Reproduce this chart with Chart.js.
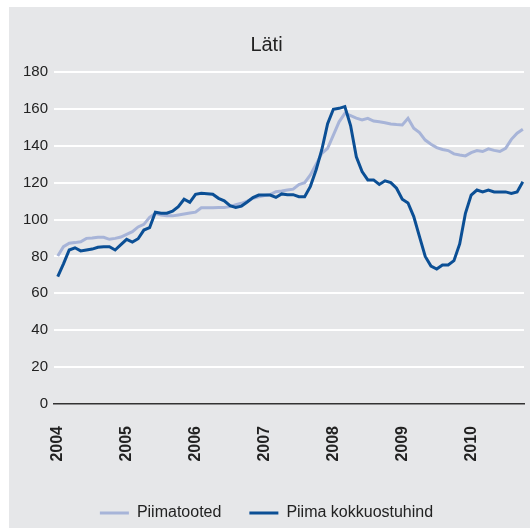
<!DOCTYPE html>
<html>
<head>
<meta charset="utf-8">
<script src="https://cdn.jsdelivr.net/npm/chart.js"></script>
<style>
  html, body { margin: 0; padding: 0; background: #fff; }
  #panel { position: absolute; left: 9px; top: 7px; width: 521px; height: 521px; background: #e6e7e9; }
  canvas { display: block; }
</style>
</head>
<body>
<div id="panel"><canvas id="chart" width="521" height="521"></canvas></div>
<script>
// Läti: piimatoodete hinnaindeks ja piima kokkuostuhind, kuised väärtused 2004 jaanuar – 2010 oktoober
const years = ['2004', '2005', '2006', '2007', '2008', '2009', '2010'];

const piimatooted = [
  80.2, 85.3, 87.2, 87.5, 88, 89.8, 90, 90.4, 90.4, 89.3, 89.8, 90.5,
  92, 93.4, 96, 97.4, 101.2, 103.4, 102.5, 102, 102, 102.5, 103, 103.5,
  104, 106.4, 106.4, 106.4, 106.5, 106.5, 107, 108, 108.8, 110, 111.5, 112.3,
  113, 113.5, 115.1, 115.5, 116, 116.5, 119, 120, 124.2, 130, 135.9, 138.6,
  145.8, 153, 157.6, 156.3, 155, 154, 154.9, 153.4, 153, 152.5, 151.8, 151.5,
  151.3, 154.9, 149.5, 147.1, 143.1, 140.8, 139, 138, 137.4, 135.6, 135, 134.5,
  136.3, 137.4, 136.9, 138.3, 137.5, 136.9, 138.6, 143.5, 146.8, 148.9
];

const kokkuostuhind = [
  69, 76, 83.5, 84.7, 83, 83.5, 84, 85, 85.3, 85.3, 83.5, 86.4,
  89.3, 87.8, 89.6, 94.3, 95.6, 104, 103.4, 103.4, 104.5, 107, 111, 109.3,
  113.7, 114.2, 114, 113.7, 111.5, 110.2, 107.5, 106.6, 107.3, 109.5, 111.9, 113.3,
  113.3, 113.3, 112, 113.9, 113.5, 113.5, 112.4, 112.4, 118, 127, 138, 152,
  159.8, 160.3, 161.2, 151, 134, 126, 121.5, 121.5, 119, 121, 120, 117,
  111, 109, 101.6, 90.7, 80, 74.8, 73.2, 75.4, 75.4, 77.7, 86.8, 103.4,
  113.3, 116, 115, 116, 115, 115, 115, 114.2, 115, 120.5
];

const FONT = "'Liberation Sans', Arial, Helvetica, sans-serif";
const toPoints = arr => arr.map((v, i) => ({ x: i, y: v }));

new Chart(document.getElementById('chart').getContext('2d'), {
  type: 'line',
  data: {
    datasets: [
      {
        label: 'Piimatooted',
        data: toPoints(piimatooted),
        borderColor: '#a7b4d8',
        backgroundColor: '#a7b4d8',
        borderWidth: 3,
        pointRadius: 0,
        tension: 0,
        order: 1
      },
      {
        label: 'Piima kokkuostuhind',
        data: toPoints(kokkuostuhind),
        borderColor: '#0b4f95',
        backgroundColor: '#0b4f95',
        borderWidth: 3,
        pointRadius: 0,
        tension: 0,
        order: 0
      }
    ]
  },
  options: {
    responsive: false,
    animation: false,
    layout: { padding: { left: 0, right: 6, top: 0, bottom: -3 } },
    scales: {
      x: {
        type: 'linear',
        min: -0.65,
        max: 81.2,
        afterBuildTicks: scale => { scale.ticks = years.map((y, k) => ({ value: k * 12 })); },
        afterFit: scale => { scale.height = 73; },
        grid: { display: false },
        border: { display: true, color: '#333', width: 1.5 },
        ticks: {
          autoSkip: false,
          minRotation: 90,
          maxRotation: 90,
          padding: 14,
          color: '#222',
          font: { family: FONT, size: 16, weight: 'bold' },
          callback: v => years[v / 12]
        }
      },
      y: {
        min: 0,
        max: 180,
        afterFit: scale => { scale.width = 45; },
        grid: {
          color: ctx => (ctx.tick && ctx.tick.value === 0 ? 'rgba(0,0,0,0)' : '#ffffff'),
          lineWidth: 2,
          drawTicks: false
        },
        border: { display: false },
        ticks: {
          stepSize: 20,
          padding: 6,
          color: '#222',
          font: { family: FONT, size: 15 }
        }
      }
    },
    plugins: {
      title: {
        display: true,
        text: 'Läti',
        color: '#222',
        font: { family: FONT, size: 20, weight: 'normal' },
        padding: { top: 26, bottom: 15 }
      },
      legend: {
        position: 'bottom',
        labels: {
          boxWidth: 29,
          boxHeight: 3,
          padding: 28,
          color: '#222',
          font: { family: FONT, size: 16 },
          sort: (a, b) => a.datasetIndex - b.datasetIndex,
          generateLabels: chart =>
            Chart.defaults.plugins.legend.labels.generateLabels(chart).map(item => {
              item.fillStyle = item.strokeStyle;
              item.lineWidth = 0;
              return item;
            })
        }
      },
      tooltip: { enabled: false }
    }
  }
});
</script>
</body>
</html>
